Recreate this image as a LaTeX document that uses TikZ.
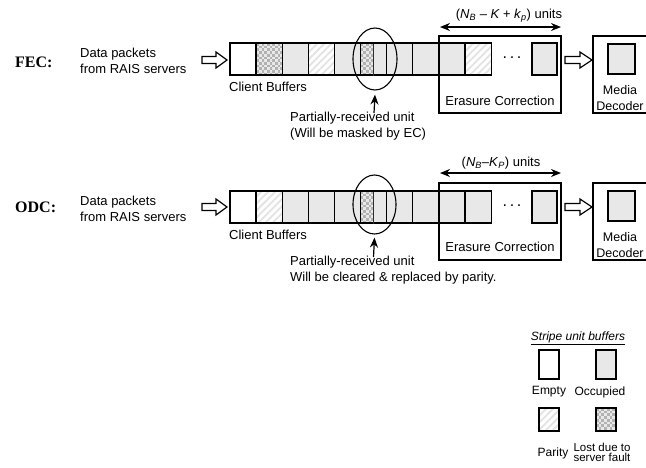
\documentclass[tikz,border=0pt]{standalone}
\usepackage{fontspec}
\setmainfont{Liberation Sans}
\newfontfamily\serifbf{Liberation Serif}
\usetikzlibrary{arrows.meta,shapes.geometric,patterns.meta,calc}
\newcommand\mychecker[4]{%
  \begin{scope}
    \clip (#1,#2) rectangle (#3,#4);
    \fill[gray!18] (#1,#2) rectangle (#3,#4);
    \foreach \i in {0,...,11}{\foreach \j in {0,...,13}{%
      \pgfmathtruncatemacro\kk{mod(\i+\j,2)}%
      \ifnum\kk=0 \fill[gray!60] ({#1+\i*2.7},{#2+\j*2.7}) rectangle ++(2.7,2.7);\fi
    }}
  \end{scope}}
\begin{document}
\begin{tikzpicture}[x=1pt,y=-1pt,
  buf/.style={draw=black,line width=1.3pt,minimum width=26.1pt,minimum height=32pt,inner sep=0pt,outer sep=0pt,anchor=north west},
  occ/.style={fill=gray!18},
  par/.style={pattern={Lines[angle=45,distance=5pt,line width=1.8pt]},pattern color=gray!22},
  ecbox/.style={draw=black,line width=2.6pt,inner sep=0pt,outer sep=0pt},
  txt/.style={font=\fontsize{13}{16}\selectfont,inner sep=0pt,align=left},
  lbl/.style={font=\serifbf\bfseries\fontsize{16}{18}\selectfont,inner sep=0pt},
  ring/.style={draw=black,line width=1.1pt,ellipse,inner sep=0pt},
  uparr/.style={line width=1.2pt,-{Stealth[length=10pt,width=8pt]}},
  dblarr/.style={line width=1.2pt,{Stealth[length=10pt,width=8pt]}-{Stealth[length=10pt,width=8pt]}},
  hollow/.style={draw=black,line width=1.2pt,fill=white},
  redline/.style={draw=red!60!black,line width=1.5pt},
  leg/.style={draw=black,line width=1.1pt,minimum width=20pt,inner sep=0pt,outer sep=0pt,anchor=north west},
  legtxt/.style={font=\fontsize{12}{14}\selectfont,inner sep=0pt,align=center}
]
\useasboundingbox (0,0) rectangle (646,467);
\clip (0,0) rectangle (646,467);
\fill[white] (0,0) rectangle (646,467);

% ================= FEC row =================
\node[lbl,anchor=west] (fecl) at (15,62) {FEC:};
\node[txt,anchor=west] (fdata) at (80,61) {Data packets\\from RAIS servers};
\draw[hollow] (202,56.5) -- (216,56.5) -- (216,52) -- (227,60) -- (216,68) -- (216,63.5) -- (202,63.5) -- cycle;

\mychecker{256.1}{43}{282.2}{75}
\node[buf] (f0) at (230,43) {};
\node[buf] (f1) at (256.1,43) {};
\node[buf,occ] (f2) at (282.2,43) {};
\node[buf,par] (f3) at (308.3,43) {};
\node[buf,occ] (f4) at (334.4,43) {};
\node[buf,occ] (f5) at (360.5,43) {};
\mychecker{360.5}{43}{373.5}{75}
\node[buf] (f5b) at (360.5,43) {};
\draw[redline] (373.5,43.6) -- (373.5,75.6);
\node[buf,occ] (f6) at (386.6,43) {};
\node[buf,occ] (f7) at (412.7,43) {};
\node[buf,occ] (f8) at (439,43) {};
\node[buf,par] (f9) at (465.1,43) {};
\node[txt,font=\fontsize{16}{18}\selectfont] (fdots) at (512,58) {.\,.\,.};
\node[buf,occ,minimum width=25pt] (f10) at (532,43) {};
\node[ecbox,minimum width=122pt,minimum height=77pt,anchor=north west] (fec) at (439,36) {};
\node[txt,anchor=center] (fect) at (500,101) {Erasure Correction};
\node[txt,anchor=west] (fcb) at (229,87) {Client Buffers};

\node[ring,minimum width=44pt,minimum height=62pt] (fe) at (375,59) {};
\coordinate (fa) at (374,113);
\draw[uparr] (fa) -- ($(fe.south)+(0,4)$);
\node[txt,anchor=west] (fpr) at (290,126) {Partially-received unit\\(Will be masked by EC)};

\coordinate (fl) at (440,27);
\coordinate (fr) at (561,27);
\draw[dblarr] (fl) -- (fr);
\node[txt,anchor=center] (fu) at (509,16) {(\textit{N}$_{\mathit{B}}$ \textit{– K + k}$_{\mathit{p}}$) units};

\draw[hollow] (565,56.5) -- (580,56.5) -- (580,52) -- (592,60) -- (580,68) -- (580,63.5) -- (565,63.5) -- cycle;
\node[ecbox,minimum width=70pt,minimum height=77pt,anchor=north west] (fmd) at (593,36) {};
\node[buf,occ,minimum width=27pt,minimum height=30pt] (fm0) at (608,44) {};
\node[txt,align=center,font=\fontsize{12.5}{16}\selectfont] (fmt) at (620,98) {Media\\Decoder};

% ================= ODC row =================
\node[lbl,anchor=west] (odcl) at (15,207) {ODC:};
\node[txt,anchor=west] (odata) at (80,208.5) {Data packets\\from RAIS servers};
\draw[hollow] (202,203.5) -- (216,203.5) -- (216,199) -- (227,207) -- (216,215) -- (216,210.5) -- (202,210.5) -- cycle;

\node[buf] (o0) at (230,191) {};
\node[buf,par] (o1) at (256.1,191) {};
\node[buf,occ] (o2) at (282.2,191) {};
\node[buf,occ] (o3) at (308.3,191) {};
\node[buf,occ] (o4) at (334.4,191) {};
\node[buf,occ] (o5) at (360.5,191) {};
\mychecker{360.5}{191}{373.5}{223}
\node[buf] (o5b) at (360.5,191) {};
\draw[redline] (373.5,191.6) -- (373.5,223.6);
\node[buf,occ] (o6) at (386.6,191) {};
\node[buf,occ] (o7) at (412.7,191) {};
\node[buf,occ] (o8) at (439,191) {};
\node[buf,occ] (o9) at (465.1,191) {};
\node[txt,font=\fontsize{16}{18}\selectfont] (odots) at (512,206) {.\,.\,.};
\node[buf,occ,minimum width=25pt] (o10) at (532,191) {};
\node[ecbox,minimum width=122pt,minimum height=77pt,anchor=north west] (oec) at (439,183) {};
\node[txt,anchor=center] (oect) at (500,247) {Erasure Correction};
\node[txt,anchor=west] (ocb) at (229,235) {Client Buffers};

\node[ring,minimum width=43pt,minimum height=59pt] (oe) at (374.5,204.5) {};
\coordinate (oa) at (373.5,257);
\draw[uparr] (oa) -- ($(oe.south)+(0,3)$);
\node[txt,anchor=west] (opr) at (290,270.5) {Partially-received unit\\Will be cleared \& replaced by parity.};

\coordinate (ol) at (440,173);
\coordinate (or) at (561,173);
\draw[dblarr] (ol) -- (or);
\node[txt,anchor=center] (ou) at (501,163) {(\textit{N}$_{\mathit{B}}$\textit{–K}$_{\mathit{P}}$) units};

\draw[hollow] (565,203.5) -- (580,203.5) -- (580,199) -- (592,207) -- (580,215) -- (580,210.5) -- (565,210.5) -- cycle;
\node[ecbox,minimum width=70pt,minimum height=77pt,anchor=north west] (omd) at (593,183) {};
\node[buf,occ,minimum width=27pt,minimum height=30pt] (om0) at (608,191) {};
\node[txt,align=center,font=\fontsize{12.5}{16}\selectfont] (omt) at (620,245) {Media\\Decoder};

% ================= Legend =================
\node[legtxt,font=\itshape\fontsize{12}{14}\selectfont] (lt) at (578,338) {\underline{Stripe unit buffers}};
\node[leg,minimum height=29pt] (le) at (539,350) {};
\node[leg,minimum height=29pt,occ] (lo) at (596,350) {};
\node[legtxt] (let) at (549,392) {Empty};
\node[legtxt] (lot) at (600,392) {Occupied};
\node[leg,minimum height=23pt,par] (lp) at (539,408) {};
\mychecker{596}{408}{616}{431}
\node[leg,minimum height=23pt] (ll) at (596,408) {};
\node[legtxt] (lpt) at (553,453) {Parity};
\node[legtxt,font=\fontsize{11.5}{10}\selectfont] (llt) at (602,452.5) {Lost due to\\server fault};
\end{tikzpicture}
\end{document}
